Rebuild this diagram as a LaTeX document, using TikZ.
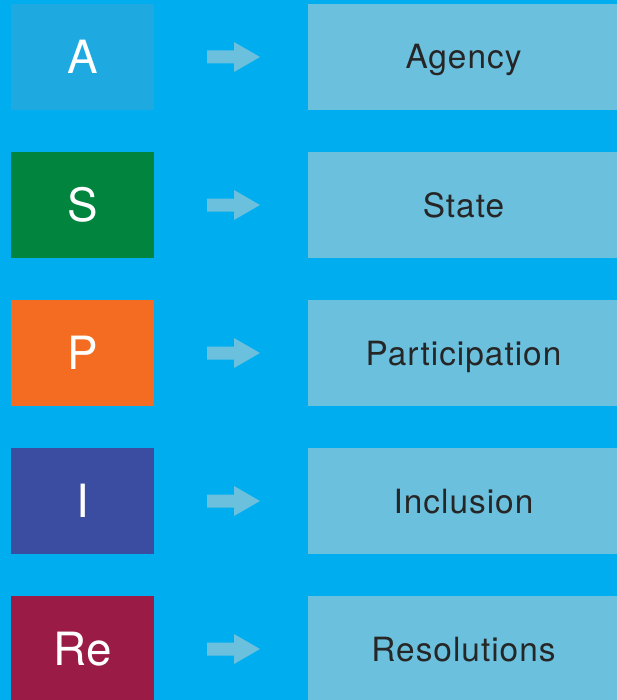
\documentclass[tikz,border=0pt]{standalone}
\usepackage{fontspec}
\setmainfont{TeX Gyre Heros}
\newfontfamily\widelabel[LetterSpace=3]{TeX Gyre Heros}
\usetikzlibrary{positioning}
\definecolor{bgblue}{HTML}{00AEEF}
\definecolor{paleblue}{HTML}{6BC0DE}
\definecolor{boxA}{HTML}{1FA9E1}
\definecolor{boxS}{HTML}{00843E}
\definecolor{boxP}{HTML}{F36C21}
\definecolor{boxI}{HTML}{3A4DA1}
\definecolor{boxRe}{HTML}{9B1B47}
\definecolor{labelgrey}{HTML}{262626}
\tikzset{letterbox/.style={
    minimum width=143bp, minimum height=106bp,
    inner sep=0pt, outer sep=0pt, text=white,
    text height=33bp, text depth=0pt,
    font=\fontsize{46}{46}\selectfont
  },
  labelbox/.style={
    fill=paleblue, anchor=west,
    minimum width=311bp, minimum height=106bp,
    inner sep=0pt, outer sep=0pt, text=labelgrey,
    text height=24bp, text depth=0pt,
    font=\widelabel\fontsize{33.5}{33.5}\selectfont
  },
  blockarrow/.pic={
    \fill[paleblue] (0,-6.5) -- (27,-6.5) -- (27,-15) -- (53,0)
      -- (27,15) -- (27,6.5) -- (0,6.5) -- cycle;
  }
}
\begin{document}
\begin{tikzpicture}[x=1bp,y=-1bp]
    \useasboundingbox (0,0) rectangle (617,700);
    \fill[bgblue] (0,0) rectangle (617,700);
    \foreach \l/\w/\c [count=\i from 0, evaluate=\i as \y using 57+148*\i] in
      {A/Agency/boxA, S/State/boxS, P/Participation/boxP, I/Inclusion/boxI, Re/Resolutions/boxRe} {
      \node[letterbox, fill=\c] (letter\i) at (82.5,\y) {\l};
      \node[labelbox] (label\i) at (308,\y) {\w};
      \pic at (207,\y) {blockarrow};
    }
\end{tikzpicture}
\end{document}
